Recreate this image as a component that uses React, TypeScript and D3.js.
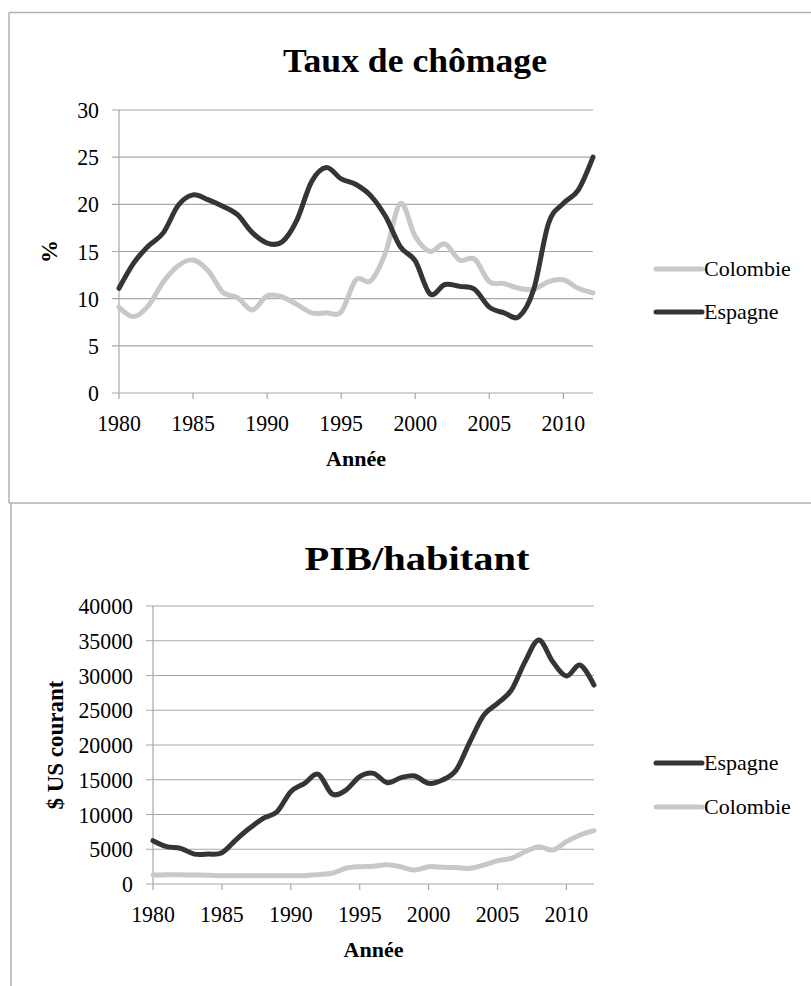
import React from "react";
import * as d3 from "d3";

const years = d3.range(1980, 2013);

const chomageEspagne = [11.1, 13.8, 15.6, 17.0, 19.9, 21.0, 20.5, 19.8, 18.9, 17.0, 15.9, 16.0, 18.3, 22.4, 23.9, 22.7, 22.1, 20.9, 18.7, 15.5, 14.0, 10.5, 11.5, 11.3, 11.0, 9.1, 8.5, 8.1, 11.0, 18.0, 20.1, 21.5, 25.0];
const chomageColombie = [9.1, 8.1, 9.3, 11.8, 13.5, 14.1, 13.0, 10.7, 10.1, 8.8, 10.3, 10.2, 9.4, 8.5, 8.5, 8.6, 12.0, 11.9, 14.9, 20.1, 16.6, 15.0, 15.8, 14.1, 14.2, 11.8, 11.6, 11.1, 11.0, 11.8, 12.0, 11.1, 10.6];

const pibEspagne = [6230, 5370, 5130, 4300, 4300, 4500, 6330, 8010, 9450, 10400, 13280, 14490, 15780, 12950, 13520, 15440, 15920, 14580, 15300, 15540, 14490, 14960, 16400, 20480, 24300, 26000, 27900, 32000, 35100, 32000, 29930, 31500, 28630];
const pibColombie = [1300, 1320, 1330, 1300, 1270, 1200, 1170, 1180, 1200, 1180, 1200, 1200, 1350, 1550, 2260, 2490, 2550, 2780, 2470, 2010, 2490, 2400, 2360, 2250, 2730, 3350, 3700, 4650, 5370, 4890, 6090, 7050, 7670];

const xTicks = [1980, 1985, 1990, 1995, 2000, 2005, 2010];
const yTicksChomage = [0, 5, 10, 15, 20, 25, 30];
const yTicksPib = [0, 5000, 10000, 15000, 20000, 25000, 30000, 35000, 40000];

const DARK = "#353535";
const LIGHT = "#c8c8c8";
const GRID = "#a8a8a8";
const FONT = "'Liberation Serif', 'Times New Roman', serif";

type Series = { name: string; values: number[]; color: string };

function Panel(props: {
  title: string;
  titleX: number;
  titleY: number;
  titleW: number;
  yLabel: string;
  yLabelX: number;
  x0: number;
  x1: number;
  y0: number;
  y1: number;
  yMax: number;
  yTicks: number[];
  series: Series[];
  legend: Series[];
  legendY: number[];
}) {
  const { x0, x1, y0, y1 } = props;
  const x = d3.scaleLinear().domain([1980, 2012]).range([x0, x1]);
  const y = d3.scaleLinear().domain([0, props.yMax]).range([y1, y0]);
  const line = d3
    .line<number>()
    .x((_, i) => x(years[i]))
    .y((d) => y(d))
    .curve(d3.curveCatmullRom.alpha(0));
  return (
    <g fontFamily={FONT}>
      <text
        x={props.titleX - props.titleW / 2}
        y={props.titleY}
        fontSize={34}
        fontWeight="bold"
        textLength={props.titleW}
        lengthAdjust="spacingAndGlyphs"
      >
        {props.title}
      </text>
      {props.yTicks.map((t) => (
        <g key={t}>
          <line x1={x0 - 7} x2={x1} y1={y(t)} y2={y(t)} stroke={GRID} strokeWidth={1.2} />
          <text
            transform={`translate(${x0 - 20},${y(t)}) scale(0.95,1)`}
            dy="0.35em"
            textAnchor="end"
            fontSize={23}
          >
            {t}
          </text>
        </g>
      ))}
      <line x1={x0} x2={x0} y1={y0} y2={y1} stroke={GRID} strokeWidth={1.2} />
      {xTicks.map((t) => (
        <g key={t}>
          <line x1={x(t)} x2={x(t)} y1={y1} y2={y1 + 6} stroke={GRID} strokeWidth={1.2} />
          <text
            transform={`translate(${x(t)},${y1 + 38}) scale(0.95,1)`}
            textAnchor="middle"
            fontSize={23}
          >
            {t}
          </text>
        </g>
      ))}
      <text x={(x0 + x1) / 2} y={y1 + 73} textAnchor="middle" fontSize={22} fontWeight="bold">
        Année
      </text>
      <text
        transform={`translate(${props.yLabelX},${(y0 + y1) / 2}) rotate(-90)`}
        textAnchor="middle"
        fontSize={23}
        fontWeight="bold"
      >
        {props.yLabel}
      </text>
      {props.series.map((s) => (
        <path key={s.name} d={line(s.values) || ""} fill="none" stroke={s.color} strokeWidth={5} strokeLinejoin="round" strokeLinecap="round" />
      ))}
      {props.legend.map((s, i) => (
        <g key={s.name}>
          <line x1={656} x2={702} y1={props.legendY[i]} y2={props.legendY[i]} stroke={s.color} strokeWidth={5} strokeLinecap="round" />
          <text x={704} y={props.legendY[i] + 7} fontSize={22}>
            {s.name}
          </text>
        </g>
      ))}
    </g>
  );
}

export default function App() {
  const esp1 = { name: "Espagne", values: chomageEspagne, color: DARK };
  const col1 = { name: "Colombie", values: chomageColombie, color: LIGHT };
  const esp2 = { name: "Espagne", values: pibEspagne, color: DARK };
  const col2 = { name: "Colombie", values: pibColombie, color: LIGHT };
  return (
    <svg width={811} height={986} style={{ position: "absolute", left: 0, top: 0, background: "#fff" }}>
      <rect width={811} height={986} fill="#fff" />
      <line x1={9} x2={811} y1={12.5} y2={12.5} stroke="#b0b0b0" strokeWidth={1.5} />
      <line x1={9} x2={9} y1={12.5} y2={503} stroke="#b0b0b0" strokeWidth={1.5} />
      <line x1={9} x2={811} y1={503} y2={503} stroke="#b0b0b0" strokeWidth={1.5} />
      <line x1={11} x2={11} y1={503} y2={986} stroke="#b0b0b0" strokeWidth={1.5} />
      <Panel
        title="Taux de chômage"
        titleX={415}
        titleY={72}
        titleW={264}
        yLabel="%"
        yLabelX={57}
        x0={119}
        x1={593}
        y0={110}
        y1={393}
        yMax={30}
        yTicks={yTicksChomage}
        series={[col1, esp1]}
        legend={[col1, esp1]}
        legendY={[269, 312]}
      />
      <Panel
        title="PIB/habitant"
        titleX={417}
        titleY={570}
        titleW={225}
        yLabel="$ US courant"
        yLabelX={63}
        x0={153}
        x1={594}
        y0={606}
        y1={884}
        yMax={40000}
        yTicks={yTicksPib}
        series={[col2, esp2]}
        legend={[esp2, col2]}
        legendY={[763, 807]}
      />
    </svg>
  );
}
